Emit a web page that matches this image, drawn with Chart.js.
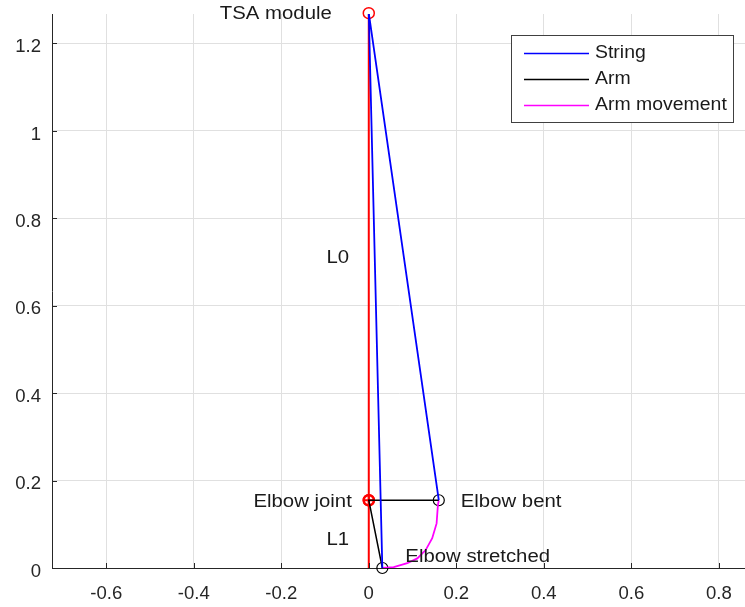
<!DOCTYPE html>
<html>
<head>
<meta charset="utf-8">
<script src="https://cdn.jsdelivr.net/npm/chart.js@4/dist/chart.umd.min.js"></script>
<style>
  html, body { margin: 0; padding: 0; background: #fff; overflow: hidden; }
  canvas { display: block; }
</style>
</head>
<body>
<!-- the axes run past the right edge of the window -->
<canvas id="armChart" width="753" height="607"></canvas>
<script>
// geometry of the TSA arm (metres)
const tsaModule = [0, 1.269];
const elbowJoint = [0, 0.155];
const elbowBent = [0.160, 0.155];
const elbowStretched = [0.031, 0];

// path of the forearm tip from bent to stretched
const movementX = [0.160, 0.158, 0.155, 0.145, 0.130, 0.111, 0.088, 0.057, 0.031];
const movementY = [0.155, 0.144, 0.102, 0.068, 0.041, 0.022, 0.011, 0.002, 0];

const seriesNames = ['String', 'Arm', 'Arm movement'];
const xTicks = [-0.6, -0.4, -0.2, 0, 0.2, 0.4, 0.6, 0.8];
const yTicks = [0, 0.2, 0.4, 0.6, 0.8, 1, 1.2];
const xRange = [-0.724, 0.861];
const yRange = [0, 1.267];

const pt = p => ({ x: p[0], y: p[1] });
const axisColor = '#262626';
const textFont = '18px "Liberation Sans", Arial, sans-serif';
const tickFont = '17.5px "Liberation Sans", Arial, sans-serif';

// text placed next to the named points (pixel offsets)
const annotations = [
    { text: 'TSA module', at: () => tsaModule, dx: -37, dy: 1, align: 'right' },
    { text: 'L0', at: () => [0, (tsaModule[1] + elbowJoint[1]) / 2], dx: -31, dy: 1, align: 'center' },
    { text: 'Elbow joint', at: () => elbowJoint, dx: -17, dy: 2, align: 'right' },
    { text: 'L1', at: () => [0, elbowJoint[1] / 2], dx: -31, dy: 6, align: 'center' },
    { text: 'Elbow bent', at: () => elbowBent, dx: 22, dy: 2, align: 'left' },
    { text: 'Elbow stretched', at: () => elbowStretched, dx: 23, dy: -11, align: 'left' },
];

function stretchedText(ctx, text, x, y, align, sx) {
    ctx.save();
    ctx.translate(x, y);
    ctx.scale(sx, 1);
    ctx.textAlign = align;
    ctx.textBaseline = 'middle';
    ctx.fillText(text, 0, 0);
    ctx.restore();
}

const decorations = {
    id: 'decorations',
    afterDatasetsDraw(chart) {
        const { ctx, chartArea: a, scales: { x, y } } = chart;
        ctx.save();

        // inward tick marks
        ctx.strokeStyle = axisColor;
        ctx.lineWidth = 1;
        ctx.beginPath();
        x.ticks.forEach(t => {
            const px = Math.round(x.getPixelForValue(t.value)) + 0.5;
            ctx.moveTo(px, a.bottom); ctx.lineTo(px, a.bottom - 5);
        });
        y.ticks.forEach(t => {
            const py = Math.round(y.getPixelForValue(t.value)) + 0.5;
            ctx.moveTo(a.left, py); ctx.lineTo(a.left + 5, py);
        });
        ctx.stroke();

        // tick labels
        ctx.fillStyle = axisColor;
        ctx.font = tickFont;
        x.ticks.forEach(t => {
            stretchedText(ctx, String(t.value), x.getPixelForValue(t.value), a.bottom + 26, 'center', 1.06);
        });
        y.ticks.forEach(t => {
            stretchedText(ctx, String(t.value), a.left - 11, y.getPixelForValue(t.value) + 4, 'right', 1.06);
        });

        // point annotations
        ctx.fillStyle = '#1a1a1a';
        ctx.font = textFont;
        annotations.forEach(n => {
            const p = n.at();
            stretchedText(ctx, n.text, x.getPixelForValue(p[0]) + n.dx, y.getPixelForValue(p[1]) + n.dy, n.align, 1.13);
        });

        // legend box
        const box = { l: 511, t: 35, w: 222, h: 87 };
        ctx.fillStyle = '#fff';
        ctx.fillRect(box.l, box.t, box.w, box.h);
        ctx.strokeStyle = '#404040';
        ctx.strokeRect(box.l + 0.5, box.t + 0.5, box.w, box.h);
        ctx.font = textFont;
        seriesNames.forEach((name, i) => {
            const ds = chart.data.datasets[i];
            const ly = box.t + 18.5 + i * 26;
            ctx.strokeStyle = ds.borderColor;
            ctx.lineWidth = 1.5;
            ctx.beginPath();
            ctx.moveTo(box.l + 13, ly); ctx.lineTo(box.l + 78, ly);
            ctx.stroke();
            ctx.fillStyle = '#1a1a1a';
            stretchedText(ctx, name, box.l + 84, ly, 'left', 1.08);
        });
        ctx.restore();
    }
};

const lineDs = (label, points, color, width) => ({
    label,
    data: points.map(pt),
    showLine: true,
    borderColor: color,
    borderWidth: width,
    pointRadius: 0,
    fill: false,
    tension: 0,
});

const markerDs = (points, color, style, radius, width) => ({
    data: points.map(pt),
    showLine: false,
    pointStyle: style,
    pointRadius: radius,
    pointBorderColor: color,
    pointBackgroundColor: 'rgba(0,0,0,0)',
    pointBorderWidth: width,
    clip: false,
});

new Chart(document.getElementById('armChart'), {
    type: 'scatter',
    data: {
        datasets: [
            lineDs(seriesNames[0], [elbowStretched, tsaModule, elbowBent], '#0000ff', 1.8),
            lineDs(seriesNames[1], [elbowBent, elbowJoint, elbowStretched], '#000000', 1.5),
            lineDs(seriesNames[2], movementX.map((v, i) => [v, movementY[i]]), '#ff00ff', 1.8),
            lineDs('L0', [[0, 0], tsaModule], '#ff0000', 2),
            markerDs([tsaModule, elbowJoint], '#ff0000', 'circle', 5.5, 1.5),
            markerDs([elbowJoint], '#ff0000', 'cross', 5, 2),
            markerDs([elbowJoint], '#ff0000', 'circle', 5, 2.5),
            markerDs([elbowBent, elbowStretched], '#000000', 'circle', 5.5, 1.2),
        ]
    },
    options: {
        responsive: false,
        animation: false,
        layout: { padding: { left: 52, top: 14, right: 0, bottom: 39 } },
        plugins: { legend: { display: false }, tooltip: { enabled: false } },
        scales: {
            x: {
                type: 'linear',
                min: xRange[0], max: xRange[1],
                afterBuildTicks: s => { s.ticks = xTicks.map(v => ({ value: v })); },
                ticks: { display: false },
                grid: { color: '#e0e0e0', drawTicks: false },
                border: { display: true, color: axisColor, width: 1 },
            },
            y: {
                type: 'linear',
                min: yRange[0], max: yRange[1],
                afterBuildTicks: s => { s.ticks = yTicks.map(v => ({ value: v })); },
                ticks: { display: false },
                grid: { color: '#e0e0e0', drawTicks: false },
                border: { display: true, color: axisColor, width: 1 },
            }
        }
    },
    plugins: [decorations]
});
</script>
</body>
</html>
